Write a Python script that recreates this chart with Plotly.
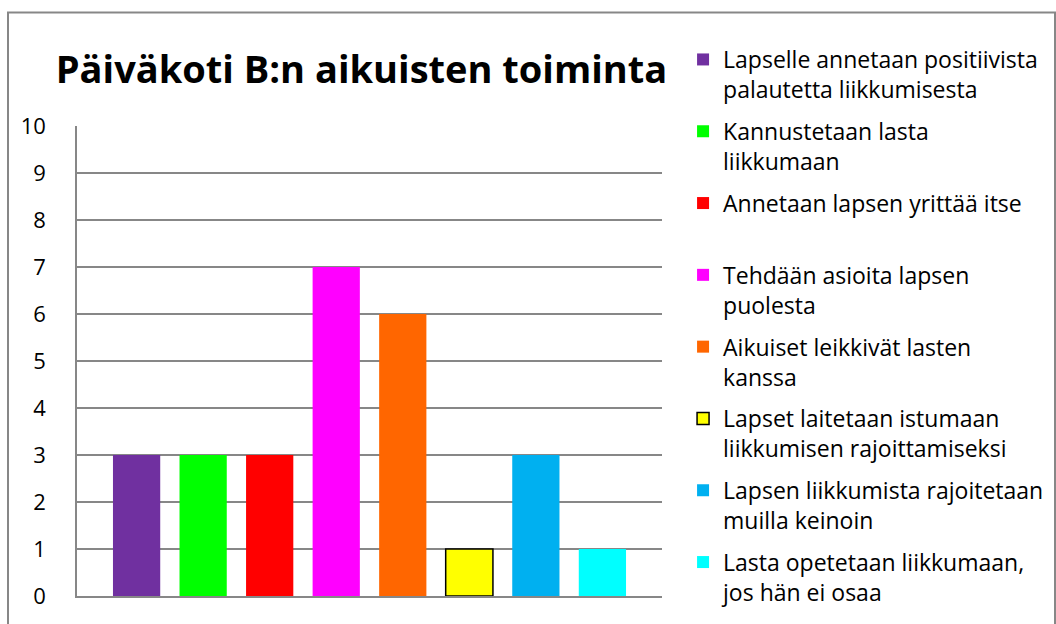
import plotly.graph_objects as go

title = "Päiväkoti B:n aikuisten toiminta"
category = ["Päiväkoti B"]
series_names = [
    "Lapselle annetaan positiivista<br>palautetta liikkumisesta",
    "Kannustetaan lasta<br>liikkumaan",
    "Annetaan lapsen yrittää itse<br> ",
    "Tehdään asioita lapsen<br>puolesta",
    "Aikuiset leikkivät lasten<br>kanssa",
    "Lapset laitetaan istumaan<br>liikkumisen rajoittamiseksi",
    "Lapsen liikkumista rajoitetaan<br>muilla keinoin",
    "Lasta opetetaan liikkumaan,<br>jos hän ei osaa",
]
series_values = [3, 3, 3, 7, 6, 1, 3, 1]
series_colors = ["#7030A0", "#00FF00", "#FF0000", "#FF00FF", "#FF6600", "#FFFF00", "#00B0F0", "#00FFFF"]
y_ticks = list(range(0, 11))

FONT = "Open Sans"

fig = go.Figure()
for i, (name, val, col) in enumerate(zip(series_names, series_values, series_colors)):
    outline = 1.5 if col == "#FFFF00" else 0
    fig.add_trace(go.Bar(
        x=category, y=[val], name=name, legendgroup=f"g{i}",
        marker=dict(color=col, line=dict(color="black", width=outline)),
    ))

grid = "#878787"
fig.update_layout(
    width=1056, height=624,
    paper_bgcolor="white", plot_bgcolor="white",
    margin=dict(l=77, r=394, t=126, b=28, autoexpand=False),
    barmode="group", bargap=0.09, bargroupgap=0.29,
    font=dict(family=FONT, color="black", size=22),
    title=dict(text=f"<b>{title}</b>", x=361.5 / 1056, xanchor="center",
               y=1 - 70 / 624, yanchor="middle", yref="container",
               font=dict(family=FONT, size=38, color="black")),
    showlegend=True,
    legend=dict(x=1.036, xanchor="left", y=(596 - 38) / 470, yanchor="top",
                maxheight=600,
                valign="top", tracegroupgap=9,
                font=dict(family=FONT, size=23, color="black"),
                bgcolor="rgba(0,0,0,0)"),
    xaxis=dict(showticklabels=False, showgrid=False, showline=True, automargin=False,
               linecolor=grid, linewidth=1.5, zeroline=False, fixedrange=True),
    yaxis=dict(range=[0, 10], tickvals=y_ticks, showgrid=True, gridcolor=grid,
               gridwidth=1.5, showline=True, linecolor=grid, linewidth=1.5,
               automargin=False,
               zeroline=False, ticks="", ticklabelstandoff=25,
               tickfont=dict(family=FONT, size=22, color="black")),
    shapes=[dict(type="rect", xref="paper", yref="paper",
                 x0=(8 - 77) / 585, x1=(1055 - 77) / 585,
                 y0=-0.2, y1=(596 - 12.5) / 470,
                 line=dict(color="#878787", width=2), fillcolor="rgba(0,0,0,0)",
                 layer="below")],
)

fig.write_html("out.html", config={"displayModeBar": False},
               post_script="document.body.style.margin='0';")
